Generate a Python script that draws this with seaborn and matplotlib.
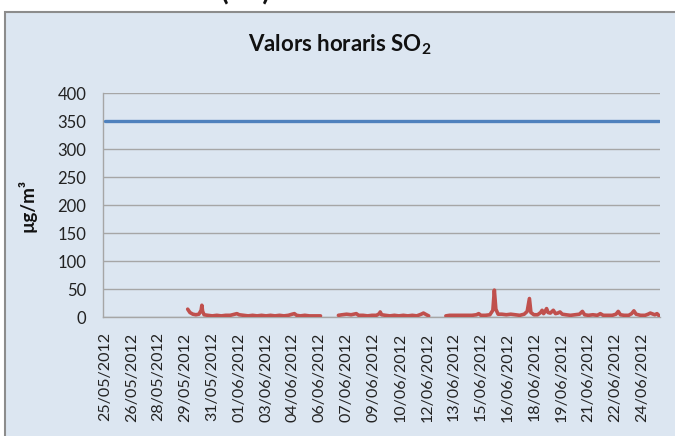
import numpy as np
import pandas as pd
import matplotlib
matplotlib.use("Agg")
import matplotlib.pyplot as plt
import seaborn as sns
from matplotlib.patches import Rectangle

# ---- data ----
TICK_LABELS = ["25/05/2012", "26/05/2012", "28/05/2012", "29/05/2012", "31/05/2012",
               "01/06/2012", "03/06/2012", "04/06/2012", "06/06/2012", "07/06/2012",
               "09/06/2012", "10/06/2012", "12/06/2012", "13/06/2012", "15/06/2012",
               "16/06/2012", "18/06/2012", "19/06/2012", "21/06/2012", "22/06/2012",
               "24/06/2012"]
TICK_HOURS = [0, 36, 72, 108, 144, 180, 216, 252, 288, 324, 360, 396, 432, 468,
              504, 540, 576, 612, 648, 684, 720]

LIMIT_HOURS = [0, 743]
LIMIT_VALUES = [350, 350]

SO2_HOURS = [111, 114, 118, 122, 126, 129, 130, 131, 133, 138, 144, 150, 156, 162, 168,
             174, 177, 180, 186, 192, 198, 204, 210, 216, 222, 228, 234, 240, 246, 251,
             254, 257, 262, 268, 274, 280, 289,
             300,
             313, 318, 324, 330, 337, 340, 346, 352, 358, 364, 368, 369, 371, 376, 382,
             388, 394, 400, 406, 412, 418, 424, 427, 431, 434,
             445,
             457, 462, 468, 474, 480, 486, 492, 498, 501, 504, 510, 516, 520, 522, 524,
             527, 532, 538, 544, 550, 556, 562, 566, 569, 571, 575, 580, 584, 586, 588,
             590, 592, 594, 597, 601, 604, 607, 610, 613, 618, 624, 630, 636, 640, 643,
             648, 654, 660, 664, 668, 674, 680, 685, 688, 691, 696, 702, 706, 709, 712,
             718, 724, 728, 731, 733, 737, 740, 743]
SO2_VALUES = [14, 8, 5, 4, 5, 12, 21, 10, 4, 3, 2, 3, 2, 3, 3,
              5, 6, 4, 3, 2, 3, 2, 3, 2, 3, 2, 3, 2, 3, 5,
              6, 3, 2, 3, 2, 2, 2,
              np.nan,
              3, 4, 5, 4, 6, 3, 3, 2, 3, 3, 6, 9, 4, 3, 2,
              3, 2, 3, 2, 3, 2, 5, 7, 4, 2,
              np.nan,
              2, 3, 3, 3, 3, 3, 3, 4, 6, 3, 3, 4, 12, 48, 14,
              5, 5, 4, 5, 4, 3, 5, 10, 33, 8, 4, 4, 8, 12, 6,
              10, 15, 8, 7, 12, 6, 7, 9, 5, 4, 3, 4, 5, 10, 4,
              3, 4, 3, 6, 3, 3, 3, 5, 10, 4, 3, 3, 6, 11, 5,
              3, 3, 5, 7, 6, 4, 6, 2]

Y_TICKS = [0, 50, 100, 150, 200, 250, 300, 350, 400]

BG = "#DCE6F1"
BLUE = "#4F81BD"
RED = "#C0504D"
GRID = "#A6A6A6"
FONT = ["Lato", "DejaVu Sans"]

sns.set_theme(style="white")
plt.rcParams["font.family"] = FONT
plt.rcParams["mathtext.fontset"] = "custom"
plt.rcParams["mathtext.rm"] = "Lato"
plt.rcParams["mathtext.bf"] = "Lato:bold"

fig = plt.figure(figsize=(6.75, 4.36), dpi=100)
fig.patch.set_facecolor("white")
# chart frame
frame = Rectangle((5 / 675, -0.05), 1.0, 1 - 12 / 436 + 0.05, transform=fig.transFigure,
                  facecolor=BG, edgecolor="#8C8C8C", linewidth=1.5, zorder=-5)
fig.patches.append(frame)

ax = fig.add_axes([103 / 675, 1 - 317 / 436, (660 - 103) / 675, (317 - 93) / 436])
ax.set_zorder(2)
ax.set_facecolor("none")

limit_df = pd.DataFrame({"hour": LIMIT_HOURS, "value": LIMIT_VALUES})
so2_df = pd.DataFrame({"hour": SO2_HOURS, "value": SO2_VALUES})

sns.lineplot(data=limit_df, x="hour", y="value", ax=ax, color=BLUE, linewidth=2.4,
             zorder=3, estimator=None)
# split on NaN so gaps remain
grp = so2_df["value"].isna().cumsum()
for _, seg in so2_df.groupby(grp):
    seg = seg.dropna()
    if len(seg):
        sns.lineplot(data=seg, x="hour", y="value", ax=ax, color=RED, linewidth=2.6,
                     zorder=3, estimator=None, sort=False)

ax.set_xlim(-2.5, 744)
ax.set_ylim(0, 400)
ax.set_yticks(Y_TICKS)
ax.set_yticklabels([str(v) for v in Y_TICKS], fontsize=12, color="#222222")
ax.set_xticks(TICK_HOURS)
ax.set_xticklabels(TICK_LABELS, rotation=90, fontsize=11.5, color="#222222")
ax.tick_params(axis="y", length=0, pad=12)
ax.tick_params(axis="x", length=0, pad=11)
ax.yaxis.grid(True, color=GRID, linewidth=1.0, zorder=1)
ax.xaxis.grid(False)
ax.set_axisbelow(True)
for s in ["top", "right"]:
    ax.spines[s].set_visible(False)
for s in ["left", "bottom"]:
    ax.spines[s].set_color(GRID)
    ax.spines[s].set_linewidth(1.0)

ax.set_xlabel("")
ax.set_ylabel("µg/m³", fontsize=13.5, fontweight="bold", color="#111111")
ax.yaxis.set_label_coords(-0.12, 0.5)

fig.text(340 / 675, 1 - 45 / 436, r"Valors horaris SO$_\mathbf{2}$", ha="center",
         va="center", fontsize=16, fontweight="bold", color="#111111")
fig.text(245 / 675, 1.0, "(     )", ha="center", va="baseline", fontsize=20,
         fontweight="bold", color="#111111")

fig.savefig("out.png", dpi=100, facecolor=fig.get_facecolor())
